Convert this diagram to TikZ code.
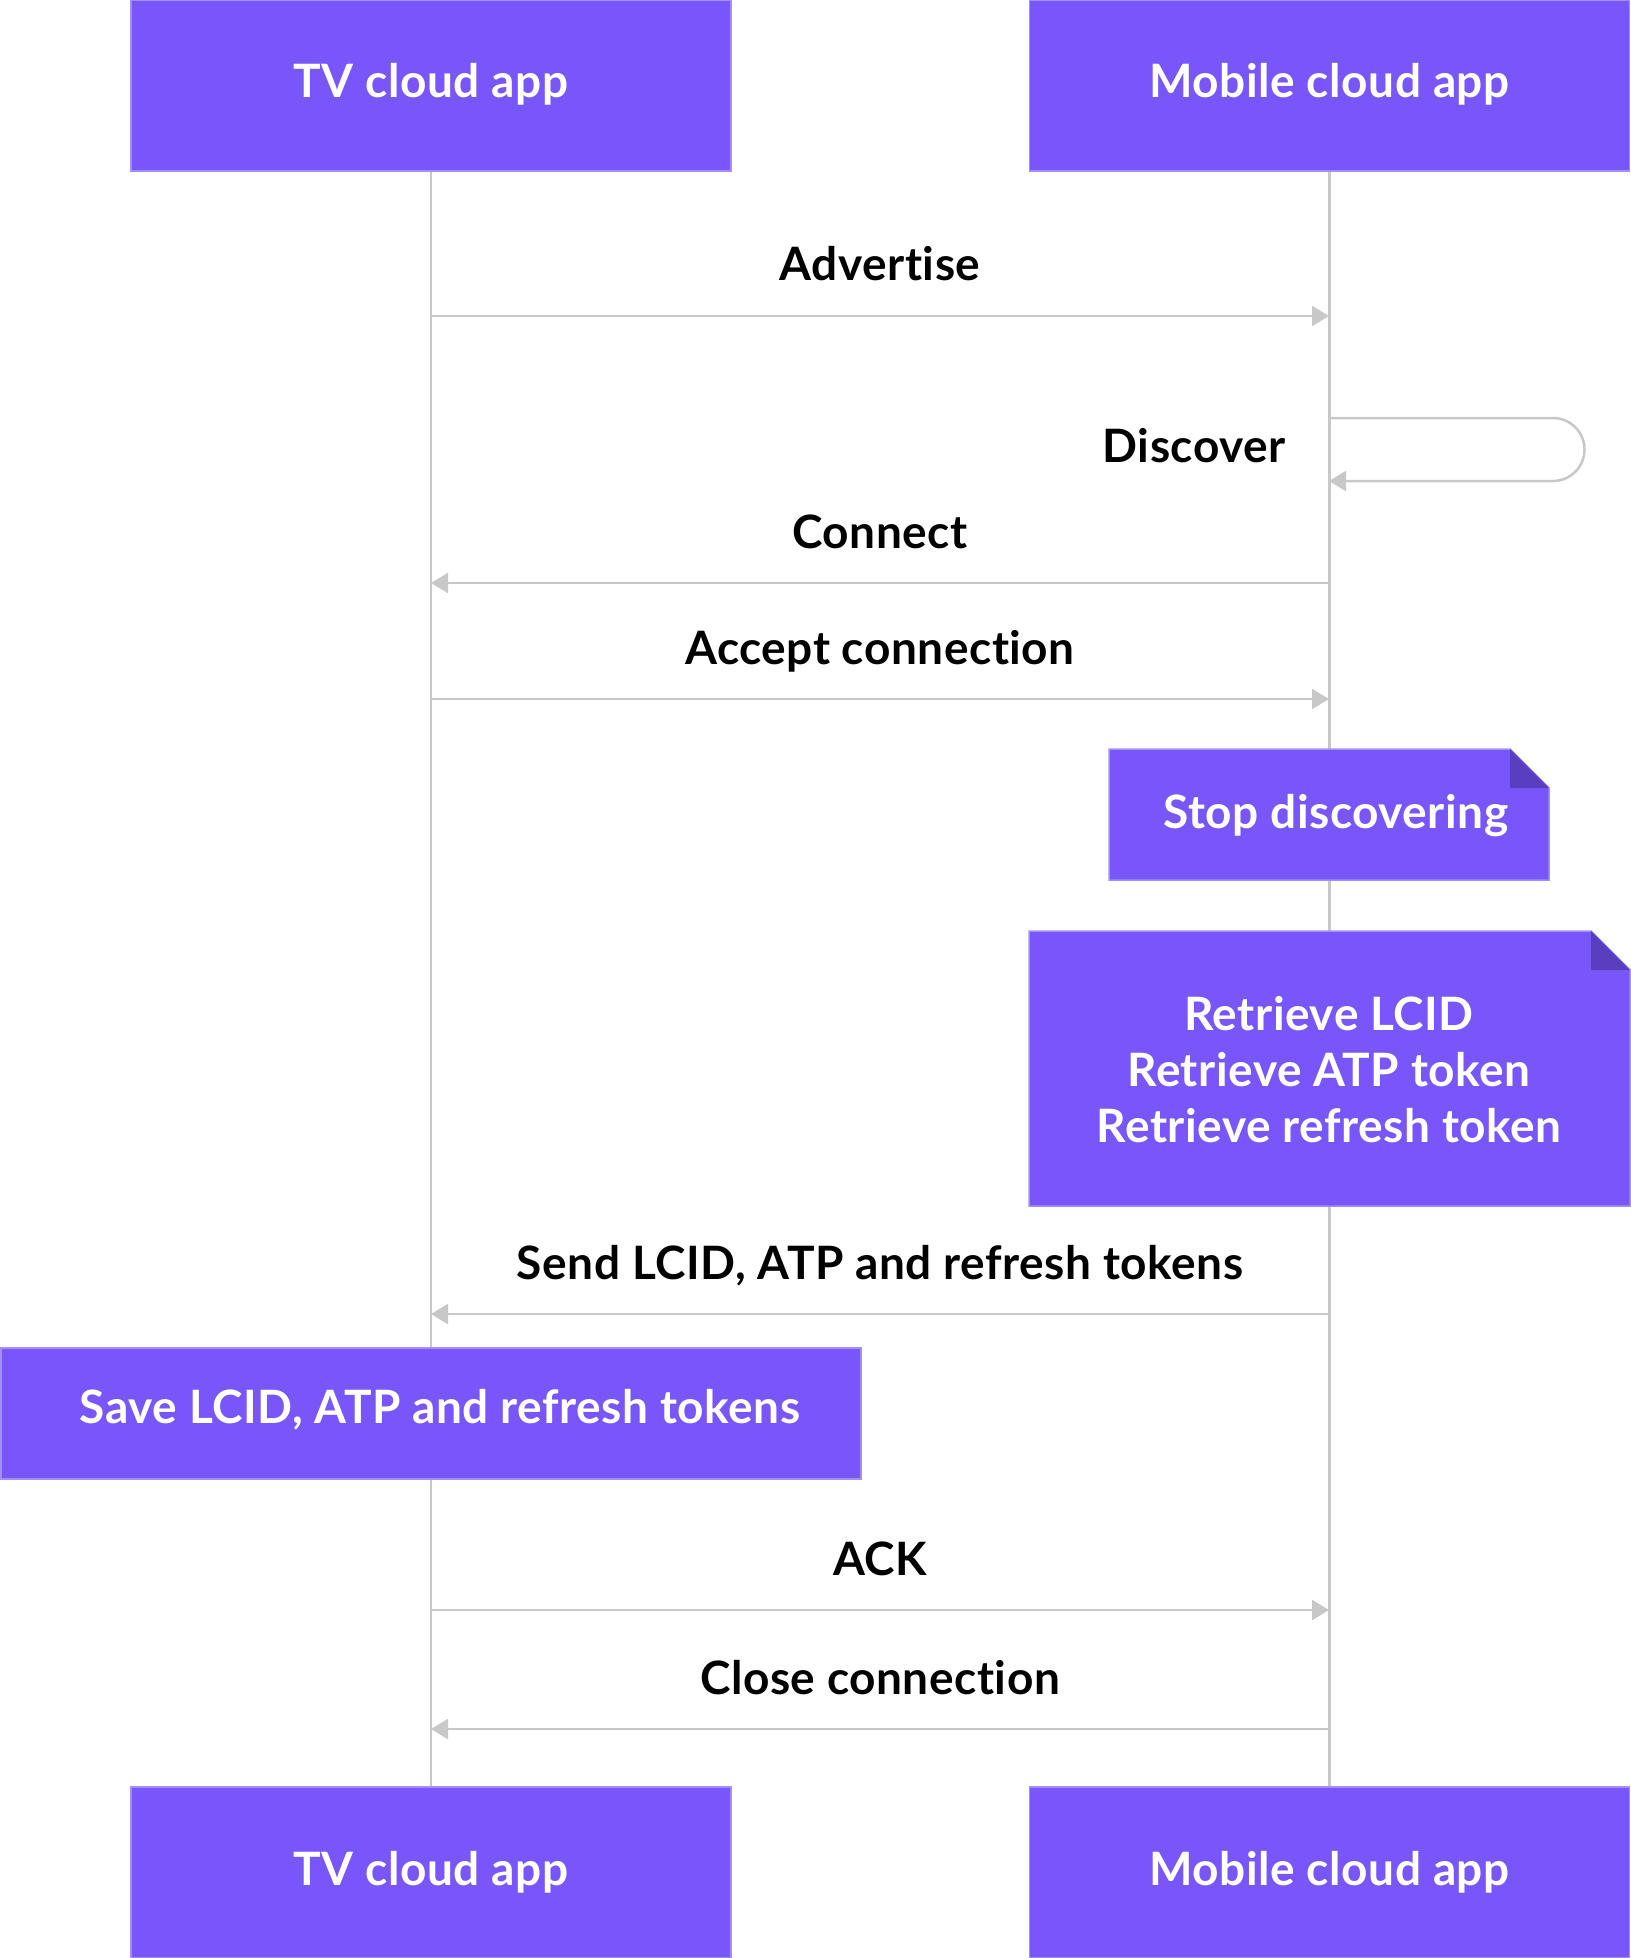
\documentclass[tikz,border=0pt]{standalone}
\usepackage{fontspec}
\setmainfont{Lato}[Ligatures=NoCommon, LetterSpace=1.2]
\usetikzlibrary{arrows.meta}
\definecolor{purp}{HTML}{7956F9}
\definecolor{purpline}{HTML}{A48EFB}
\definecolor{folddark}{HTML}{5A3EC0}
\definecolor{lifegray}{HTML}{C8C8C8}
\begin{document}
\begin{tikzpicture}[x=1pt,y=-1pt,
  bigfont/.style={font=\fontsize{46}{55}\selectfont\bfseries},
  actor/.style={bigfont, fill=purp, draw=purpline, line width=1.5pt, text=white,
    minimum width=600pt, minimum height=171pt, inner sep=0pt},
  lifeline/.style={draw=lifegray, line width=2.5pt},
  msg/.style={draw=lifegray, line width=2.5pt, -{Triangle[length=17pt,width=20pt,fill=lifegray]}},
  lbl/.style={bigfont, text=black, inner sep=0pt, anchor=base},
  wlbl/.style={bigfont, text=white, inner sep=0pt, anchor=base},
  notefill/.style={fill=purp, draw=purpline, line width=1.5pt},
  foldfill/.style={fill=folddark}
]
\useasboundingbox (0,0) rectangle (1630,1958);

% actors
\node[actor] (tvtop) at (431,85.5) {};
\node[wlbl] (tvtoplbl) at (431,98) {TV cloud app};
\node[actor] (mbtop) at (1329.5,85.5) {};
\node[wlbl] (mbtoplbl) at (1329.5,98) {Mobile cloud app};
\node[actor] (tvbot) at (431,1872.5) {};
\node[wlbl] (tvbotlbl) at (431,1885) {TV cloud app};
\node[actor] (mbbot) at (1329.5,1872.5) {};
\node[wlbl] (mbbotlbl) at (1329.5,1885) {Mobile cloud app};

% lifelines
\draw[lifeline] (tvtop.south) -- (tvbot.north);
\draw[lifeline] (mbtop.south) -- (mbbot.north);

% coordinates on lifelines
\coordinate (tvA) at (431,316);  \coordinate (mbA) at (1329,316);
\coordinate (mbD1) at (1329,418); \coordinate (mbD2) at (1329,481);
\coordinate (tvC) at (431,583);  \coordinate (mbC) at (1329,583);
\coordinate (tvAc) at (431,699); \coordinate (mbAc) at (1329,699);
\coordinate (tvS) at (431,1314); \coordinate (mbS) at (1329,1314);
\coordinate (tvK) at (431,1610); \coordinate (mbK) at (1329,1610);
\coordinate (tvX) at (431,1729); \coordinate (mbX) at (1329,1729);

% Advertise
\node[lbl] (advlbl) at (880,281) {Advertise};
\draw[msg] (tvA) -- (mbA);

% Discover (self message)
\node[lbl, anchor=base east] (disclbl) at (1286,462) {Discover};
\draw[msg] (mbD1) -- (1553,418) arc[start angle=-90, end angle=90, radius=31.5] -- (mbD2);

% Connect
\node[lbl] (conlbl) at (880,548) {Connect};
\draw[msg] (mbC) -- (tvC);

% Accept connection
\node[lbl] (acclbl) at (880,664) {Accept connection};
\draw[msg] (tvAc) -- (mbAc);

% Stop discovering note
\fill[notefill] (1109,749) -- (1510,749) -- (1549,788) -- (1549,880) -- (1109,880) -- cycle;
\fill[foldfill] (1510,749) -- (1510,788) -- (1549,788) -- cycle;
\node[wlbl] (stoplbl) at (1336,828) {Stop discovering};

% Retrieve note
\fill[notefill] (1029,931) -- (1591,931) -- (1630,970) -- (1630,1206) -- (1029,1206) -- cycle;
\fill[foldfill] (1591,931) -- (1591,970) -- (1630,970) -- cycle;
\node[wlbl] (ret1) at (1329,1030) {Retrieve LCID};
\node[wlbl] (ret2) at (1329,1086) {Retrieve ATP token};
\node[wlbl] (ret3) at (1329,1142) {Retrieve refresh token};

% Send
\node[lbl] (sendlbl) at (880,1279) {Send LCID, ATP and refresh tokens};
\draw[msg] (mbS) -- (tvS);

% Save box
\fill[notefill] (1,1348) rectangle (861,1479);
\node[wlbl] (savelbl) at (440,1423) {Save LCID, ATP and refresh tokens};

% ACK
\node[lbl] (acklbl) at (880,1575) {ACK};
\draw[msg] (tvK) -- (mbK);

% Close connection
\node[lbl] (closelbl) at (880,1694) {Close connection};
\draw[msg] (mbX) -- (tvX);
\end{tikzpicture}
\end{document}
